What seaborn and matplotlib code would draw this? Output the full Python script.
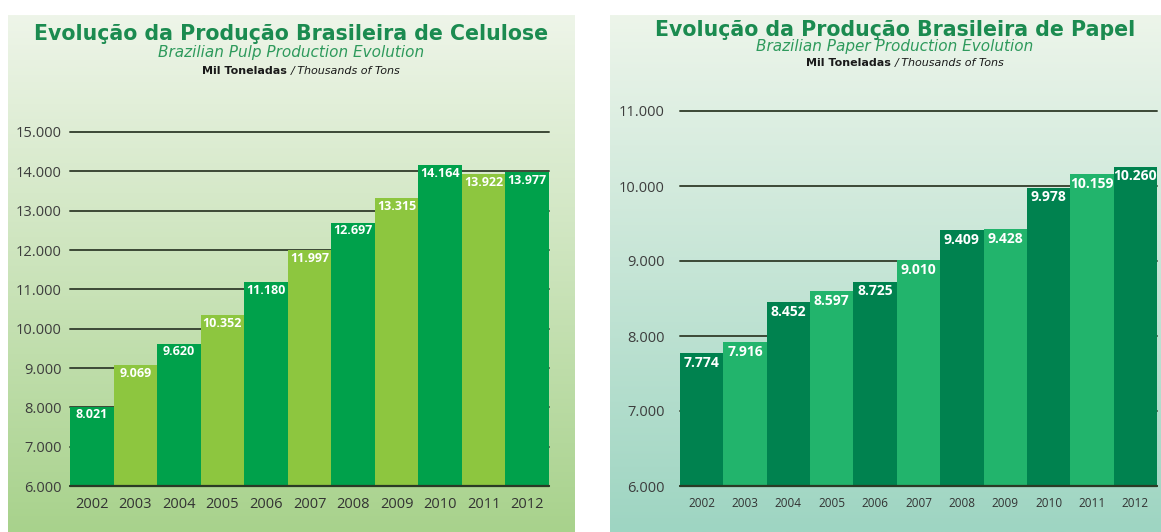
import numpy as np
import matplotlib.pyplot as plt
import seaborn as sns
from matplotlib.colors import LinearSegmentedColormap

# --- dados ---
years = ['2002', '2003', '2004', '2005', '2006', '2007', '2008', '2009', '2010', '2011', '2012']
pulp = [8021, 9069, 9620, 10352, 11180, 11997, 12697, 13315, 14164, 13922, 13977]
paper = [7774, 7916, 8452, 8597, 8725, 9010, 9409, 9428, 9978, 10159, 10260]

pulp_ticks = [6000, 7000, 8000, 9000, 10000, 11000, 12000, 13000, 14000, 15000]
paper_ticks = [6000, 7000, 8000, 9000, 10000, 11000]

pulp_colors = ['#00a14b', '#8dc63f']
paper_colors = ['#00824f', '#22b46c']

W, H = 1161, 532
sns.set_theme(style='white')
plt.rcParams['font.family'] = ['DejaVu Sans']

fig = plt.figure(figsize=(W / 100, H / 100), dpi=100)


def fmt(v):
    return f"{v:,}".replace(",", ".")


def px(x0, y0, x1, y1):
    # caixa em pixels (origem no topo) -> fração da figura
    return [x0 / W, 1 - y1 / H, (x1 - x0) / W, (y1 - y0) / H]


def background(box, top, bottom):
    bg = fig.add_axes(px(*box), zorder=0)
    cmap = LinearSegmentedColormap.from_list('bg', [top, bottom])
    grad = np.linspace(0, 1, 256).reshape(-1, 1)
    bg.imshow(grad, aspect='auto', cmap=cmap, extent=[0, 1, 0, 1], origin='upper')
    bg.set_axis_off()


def panel(box, values, ticks, colors, xsize, vsize, ypad, vlab_off):
    ax = fig.add_axes(px(*box), zorder=2)
    ax.patch.set_alpha(0)
    pal = [colors[i % 2] for i in range(len(years))]
    sns.barplot(x=years, y=values, hue=years, palette=pal, legend=False,
                width=1.0, saturation=1, linewidth=0, edgecolor='none', ax=ax, zorder=3)
    ax.set_ylim(ticks[0], ticks[-1])
    ax.set_xlim(-0.5, len(years) - 0.5)
    ax.set_yticks(ticks)
    ax.set_yticklabels([fmt(t) for t in ticks], fontsize=10.5, color='#3d3d3d',
                       family='Open Sans')
    ax.tick_params(axis='y', length=0, pad=ypad)
    ax.tick_params(axis='x', length=0, pad=8, labelsize=xsize, labelcolor='#333333')
    for lab in ax.get_xticklabels():
        lab.set_family('Open Sans')
    for t in ticks:
        ax.axhline(t, color='#3c4836', lw=1.4, zorder=1, clip_on=False)
    ax.axhline(ticks[0], color='#2a3a25', lw=1.6, zorder=4, clip_on=False)
    for s in ax.spines.values():
        s.set_visible(False)
    ax.set_xlabel('')
    ax.set_ylabel('')
    for i, v in enumerate(values):
        ax.annotate(fmt(v), (i, v), xytext=(0, -vlab_off), textcoords='offset points',
                    ha='center', va='center', color='white', fontsize=vsize,
                    fontweight='bold', family='Open Sans', zorder=5)
    return ax


def titles(cx, y0, main, sub, gap):
    fig.text(cx / W, 1 - y0 / H, main, ha='center', va='center', fontsize=14.8,
             fontweight='bold', color='#1b8b50', zorder=3)
    fig.text(cx / W, 1 - (y0 + gap) / H, sub, ha='center', va='center', fontsize=11,
             style='italic', color='#2e9a5c', zorder=3)
    fig.text(cx / W, 1 - (y0 + 2 * gap - 1) / H, 'Mil Toneladas ', ha='right', va='center',
             fontsize=8, fontweight='bold', color='#1a1a1a', zorder=3)
    fig.text(cx / W, 1 - (y0 + 2 * gap - 1) / H, '/ Thousands of Tons', ha='left',
             va='center', fontsize=8, style='italic', color='#1a1a1a', zorder=3)


# fundos em degradê
background((8, 15, 575, 532), '#eef5e9', '#a8d28c')
background((610, 15, 1161, 532), '#edf5ea', '#9ed5c2')

# Celulose
panel((70, 132, 549, 486), pulp, pulp_ticks, pulp_colors, 10.5, 9, 6, 6)
titles(291, 34, 'Evolução da Produção Brasileira de Celulose',
       'Brazilian Pulp Production Evolution', 19)

# Papel
panel((680, 111, 1157, 486), paper, paper_ticks, paper_colors, 8.5, 10, 11, 7)
titles(895, 30, 'Evolução da Produção Brasileira de Papel',
       'Brazilian Paper Production Evolution', 17)

fig.savefig('out.png', dpi=100)
